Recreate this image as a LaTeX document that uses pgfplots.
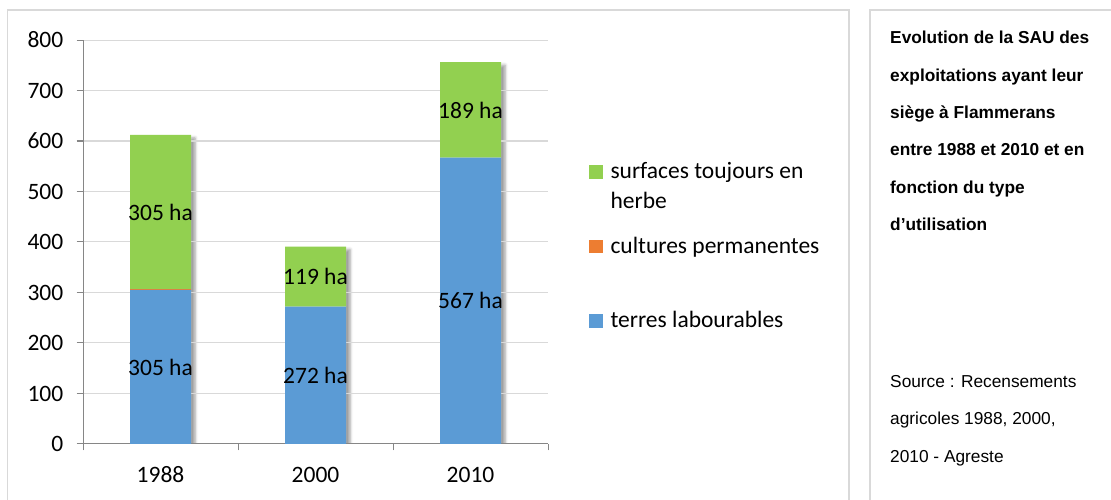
\documentclass[border=0pt]{standalone}
\usepackage{fontspec}
\setmainfont{Carlito}
\newfontfamily\arialfont{Liberation Sans}
\usepackage{pgfplots}
\pgfplotsset{compat=1.18}
\usetikzlibrary{shadows.blur}
\definecolor{cblue}{HTML}{5B9BD5}
\definecolor{corange}{HTML}{ED7D31}
\definecolor{cgreen}{HTML}{92D050}
\definecolor{framec}{HTML}{D9D9D9}
\definecolor{gridc}{HTML}{D9D9D9}
\definecolor{axisc}{HTML}{868686}

\begin{document}
\begin{tikzpicture}[x=1pt,y=1pt]
\path[use as bounding box] (0,0) rectangle (1111,500);
\clip (0,0) rectangle (1111,500);
% frames
\draw[framec, line width=1.5pt] (7.5,-10) rectangle (849,490);
\draw[framec, line width=1.5pt] (870,-10) rectangle (1130,490);

% drop shadows of the whole bars (totals), drawn first
\begin{axis}[at={(83pt,56pt)}, anchor=south west, scale only axis,
  width=465pt, height=404pt, hide axis,
  ybar, bar width=61pt,
  xmin=-0.5, xmax=2.5, ymin=0, ymax=800]
\addplot[fill=white, draw=none,
  blur shadow={shadow xshift=4pt, shadow yshift=-3pt, shadow blur radius=3pt, shadow opacity=40}]
  coordinates {(0,612) (1,391) (2,756)};
\end{axis}

% gridlines, axes and the bars
\begin{axis}[at={(83pt,56pt)}, anchor=south west, scale only axis,
  width=465pt, height=404pt,
  ybar stacked, bar width=61pt,
  xmin=-0.5, xmax=2.5, ymin=0, ymax=800,
  ytick={0,100,...,800},
  xtick={-0.5,0.5,1.5,2.5}, xticklabels={},
  extra x ticks={0,1,2}, extra x tick labels={1988,2000,2010},
  extra x tick style={major tick length=0pt, grid=none},
  axis lines*=left, axis line style={axisc, line width=1pt, -},
  ymajorgrids, major grid style={gridc, line width=1pt},
  tick align=outside, major tick length=6.5pt,
  tick style={axisc, line width=1pt},
  /pgf/number format/assume math mode=true,
  tick label style={font=\fontsize{23.5}{28}\selectfont, inner sep=0pt, text=black},
  yticklabel style={xshift=-13pt},
  xticklabel style={anchor=base, yshift=-39pt},
  legend style={at={(rel axis cs:1.0882,0.7005)}, anchor=north west,
    draw=none, fill=none, inner sep=0pt, outer sep=0pt,
    row sep=53pt, column sep=6pt,
    font=\fontsize{23.5}{30}\selectfont,
    cells={inner sep=0pt, text height=16pt, text depth=5pt, anchor=base west}},
  reverse legend,
  legend image code/.code={\fill[#1,draw=none] (0pt,0pt) rectangle (13.5pt,13.5pt);},
]
\addplot[fill=cblue, draw=none] coordinates {(0,305) (1,272) (2,567)};
\addlegendentry{terres labourables}
\addplot[fill=corange, draw=none] coordinates {(0,2) (1,0) (2,0)};
\addlegendentry{cultures permanentes}
\addplot[fill=cgreen, draw=none] coordinates {(0,305) (1,119) (2,189)};
\addlegendentry{\begin{tabular}[t]{@{}l@{}}surfaces toujours en\\herbe\end{tabular}}

\coordinate (a1) at (axis cs:0,152.5);
\coordinate (a2) at (axis cs:0,459.5);
\coordinate (b1) at (axis cs:1,136);
\coordinate (b2) at (axis cs:1,331.5);
\coordinate (c1) at (axis cs:2,283.5);
\coordinate (c2) at (axis cs:2,661.5);
\end{axis}

\begin{scope}[font=\fontsize{23.5}{28}\selectfont]
\node at (a1) {305 ha};
\node at (a2) {305 ha};
\node at (b1) {272 ha};
\node at (b2) {119 ha};
\node at (c1) {567 ha};
\node at (c2) {189 ha};
\end{scope}

\begin{scope}[font=\arialfont\bfseries\fontsize{17.3}{20}\selectfont]
\node[anchor=base west, inner sep=0pt] at (890,456) {Evolution de la SAU des};
\node[anchor=base west, inner sep=0pt] at (890,418.7) {exploitations ayant leur};
\node[anchor=base west, inner sep=0pt] at (890,381.3) {siège à Flammerans};
\node[anchor=base west, inner sep=0pt] at (890,344) {entre 1988 et 2010 et en};
\node[anchor=base west, inner sep=0pt] at (890,306.7) {fonction du type};
\node[anchor=base west, inner sep=0pt] at (890,269.3) {d’utilisation};
\end{scope}
\begin{scope}[font=\arialfont\fontsize{17.3}{20}\selectfont]
\node[anchor=base west, inner sep=0pt] at (890,112.3) {Source : Recensements};
\node[anchor=base west, inner sep=0pt] at (890,75) {agricoles 1988, 2000,};
\node[anchor=base west, inner sep=0pt] at (890,37.7) {2010 - Agreste};
\end{scope}
\end{tikzpicture}
\end{document}
